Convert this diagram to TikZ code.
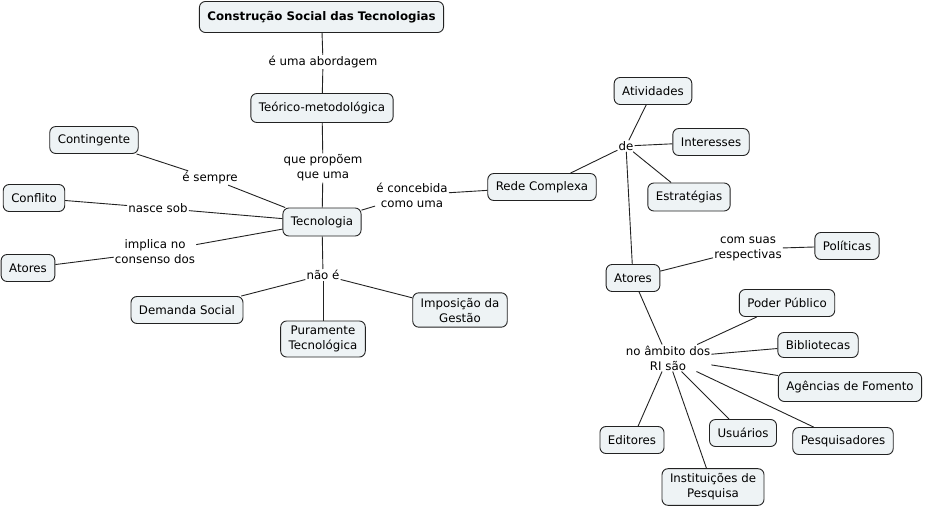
\documentclass[tikz,border=0pt]{standalone}
\usepackage{fontspec}
\setmainfont{DejaVu Sans}
\definecolor{cmapfill}{HTML}{EEF3F5}
\definecolor{cmapline}{HTML}{222222}
\tikzset{
    concept/.style={draw=cmapline, fill=cmapfill, rounded corners=6pt, line width=0.9pt,
        inner xsep=8pt, inner ysep=5pt, minimum height=27pt, align=center},
    linkword/.style={inner sep=1pt, align=center},
    link/.style={draw=cmapline, line width=0.9pt}
}
\begin{document}
\begin{tikzpicture}[x=1pt, y=-1pt, font=\fontsize{11.8}{15}\selectfont]
        \useasboundingbox (0,0) rectangle (926,511);
        % conceitos
        \node (cst) at (321.5,17)[concept,minimum height=31pt,font=\fontsize{11.8}{15}\selectfont\bfseries]{Construção Social das Tecnologias};
        \node (teo) at (322,108)[concept,minimum height=29pt]{Teórico-metodológica};
        \node (tec) at (322,222)[concept,minimum height=28pt]{Tecnologia};
        \node (cont) at (94,140)[concept]{Contingente};
        \node (conf) at (34,198)[concept]{Conflito};
        \node (atl) at (28,268)[concept]{Atores};
        \node (dem) at (187,310)[concept]{Demanda Social};
        \node (pur) at (323,339)[concept]{Puramente\\Tecnológica};
        \node (imp) at (460,310)[concept]{Imposição da\\Gestão};
        \node (rede) at (542,187)[concept]{Rede Complexa};
        \node (ativ) at (653,91)[concept]{Atividades};
        \node (inte) at (711,142)[concept]{Interesses};
        \node (estr) at (689,197)[concept,minimum height=28pt]{Estratégias};
        \node (atr) at (633,278)[concept]{Atores};
        \node (pol) at (847,246)[concept]{Políticas};
        \node (pod) at (787,303)[concept]{Poder Público};
        \node (bib) at (818,345)[concept,minimum height=25pt]{Bibliotecas};
        \node (age) at (850,387)[concept,minimum height=29pt]{Agências de Fomento};
        \node (edi) at (632,440)[concept]{Editores};
        \node (usu) at (743,433)[concept]{Usuários};
        \node (pes) at (843,441)[concept]{Pesquisadores};
        \node (ins) at (713,487)[concept]{Instituições de\\Pesquisa};
        % frases de ligação
        \node (l1) at (323,62)[linkword]{é uma abordagem};
        \node (l2) at (323,168)[linkword]{que propõem\\que uma};
        \node (l3) at (210,178)[linkword]{é sempre};
        \node (l4) at (158,208)[linkword]{nasce sob};
        \node (l5) at (155,252)[linkword]{implica no\\consenso dos};
        \node (l6) at (323,275)[linkword]{não é};
        \node (l7) at (412,195)[linkword]{é concebida\\como uma};
        \node (l8) at (626,146)[linkword]{de};
        \node (l9) at (748,249)[linkword]{com suas\\respectivas};
        \node (l10) at (668,358)[linkword]{no âmbito dos\\RI são};
        % ligações
        \foreach \a/\b in {cst/l1, l1/teo, teo/l2, l2/tec, tec/l3, l3/cont, tec/l4, l4/conf,
            tec/l5, l5/atl, tec/l6, l6/dem, l6/pur, l6/imp, tec/l7, l7/rede,
            rede/l8, l8/ativ, l8/inte, l8/estr, l8/atr, atr/l9, l9/pol, atr/l10,
            l10/pod, l10/bib, l10/age, l10/edi, l10/usu, l10/pes, l10/ins}{
            \path[link] (\a) -- (\b);
        }
    \end{tikzpicture}
\end{document}
